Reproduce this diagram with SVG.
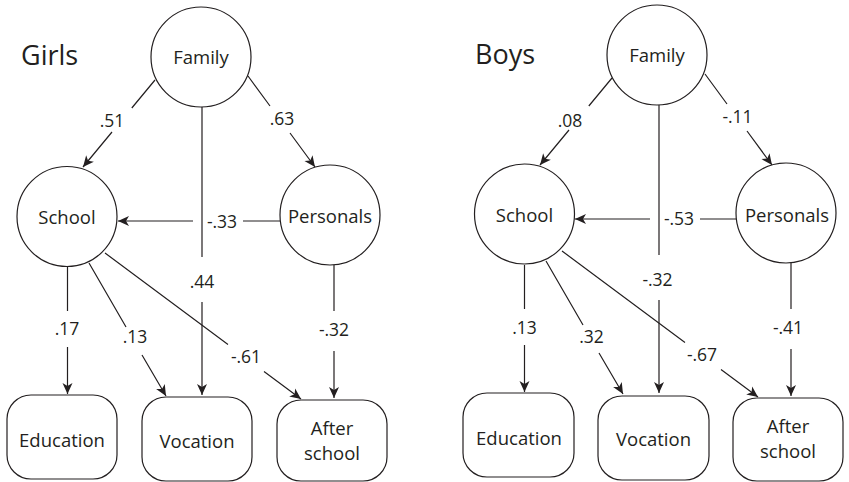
<svg xmlns="http://www.w3.org/2000/svg" width="849" height="482" viewBox="0 0 849 482">
<style>
.ln{fill:none;stroke:#231f20;stroke-width:1.2}
.nd{fill:#fff;stroke:#231f20;stroke-width:1.2}
.tx{font-family:"Open Sans","Liberation Sans",sans-serif;font-size:18.5px;fill:#231f20;text-anchor:middle}
.lb{font-family:"Open Sans","Liberation Sans",sans-serif;font-size:17.5px;fill:#231f20;text-anchor:middle}
.ti{font-family:"Open Sans","Liberation Sans",sans-serif;font-size:27px;fill:#231f20}
</style>
<defs>
<marker id="ah" viewBox="-12 -6 13 12" refX="0" refY="0" markerWidth="13" markerHeight="12" markerUnits="userSpaceOnUse" orient="auto">
<path d="M0,0 L-11,-5 L-8,0 L-11,5 Z" fill="#231f20"/>
</marker>
</defs>

<g id="girls">
<text class="ti" x="21" y="65">Girls</text>
<g id="girls-connectors">
<path class="ln" marker-end="url(#ah)" d="M155,80 L131.8,108 M112,132 L83,167"/>
<text class="lb" x="112" y="127">.51</text>
<path class="ln" marker-end="url(#ah)" d="M248,76 L270,106 M290,133 L315,167"/>
<text class="lb" x="282" y="125">.63</text>
<path class="ln" marker-end="url(#ah)" d="M280,221 L243,221 M193,221 L118,221"/>
<text class="lb" x="222" y="228">-.33</text>
<path class="ln" marker-end="url(#ah)" d="M202,107 L202,257 M202,302 L202,395"/>
<text class="lb" x="202" y="288">.44</text>
<path class="ln" marker-end="url(#ah)" d="M67.5,267 L67.5,311 M67.5,347 L67.5,394"/>
<text class="lb" x="67" y="335">.17</text>
<path class="ln" marker-end="url(#ah)" d="M89,263 L126,327 M142,355 L166,396"/>
<text class="lb" x="135" y="343">.13</text>
<path class="ln" marker-end="url(#ah)" d="M105,253 L228,344.6 M264,371.4 L301,399"/>
<text class="lb" x="246" y="363">-.61</text>
<path class="ln" marker-end="url(#ah)" d="M334,265 L334,311 M334,351 L334,398"/>
<text class="lb" x="334" y="336">-.32</text>
</g>
<g id="girls-family"><circle class="nd" cx="201" cy="57" r="50"/><text class="tx" x="201" y="64">Family</text></g>
<g id="girls-school"><circle class="nd" cx="67" cy="216.5" r="50"/><text class="tx" x="67" y="224">School</text></g>
<g id="girls-personals"><circle class="nd" cx="330" cy="215" r="50"/><text class="tx" x="330" y="222.5">Personals</text></g>
<g id="girls-education"><rect class="nd" x="7" y="395" width="110" height="84" rx="24"/><text class="tx" x="62" y="447">Education</text></g>
<g id="girls-vocation"><rect class="nd" x="142" y="397" width="110" height="84" rx="24"/><text class="tx" x="197" y="448">Vocation</text></g>
<g id="girls-afterschool"><rect class="nd" x="277" y="400" width="110" height="81" rx="24"/><text class="tx" x="332" y="435">After</text><text class="tx" x="332" y="460">school</text></g>
</g>

<g id="boys" transform="translate(457,-2)">
<text class="ti" x="18" y="66">Boys</text>
<g id="boys-connectors">
<path class="ln" marker-end="url(#ah)" d="M155,80 L131.8,108 M112,132 L83,167"/>
<text class="lb" x="113" y="129">.08</text>
<path class="ln" marker-end="url(#ah)" d="M248,76 L270,106 M290,133 L315,167"/>
<text class="lb" x="280.5" y="125">-.11</text>
<path class="ln" marker-end="url(#ah)" d="M280,221 L243,221 M193,221 L118,221"/>
<text class="lb" x="222" y="227">-.53</text>
<path class="ln" marker-end="url(#ah)" d="M202,107 L202,257 M202,302 L202,395"/>
<text class="lb" x="200.5" y="287.5">-.32</text>
<path class="ln" marker-end="url(#ah)" d="M67.5,267 L67.5,311 M67.5,347 L67.5,394"/>
<text class="lb" x="67.5" y="336">.13</text>
<path class="ln" marker-end="url(#ah)" d="M89,263 L126,327 M142,355 L166,396"/>
<text class="lb" x="134.5" y="345">.32</text>
<path class="ln" marker-end="url(#ah)" d="M105,253 L228,344.6 M264,371.4 L301,399"/>
<text class="lb" x="245" y="362.5">-.67</text>
<path class="ln" marker-end="url(#ah)" d="M334,265 L334,311 M334,351 L334,398"/>
<text class="lb" x="331" y="336">-.41</text>
</g>
<g id="boys-family"><circle class="nd" cx="200" cy="57" r="50"/><text class="tx" x="200" y="64">Family</text></g>
<g id="boys-school"><circle class="nd" cx="67.5" cy="216" r="50"/><text class="tx" x="67.5" y="223.5">School</text></g>
<g id="boys-personals"><circle class="nd" cx="329" cy="215" r="50"/><text class="tx" x="330" y="224">Personals</text></g>
<g id="boys-education"><rect class="nd" x="6" y="395" width="111" height="84" rx="24"/><text class="tx" x="62" y="447">Education</text></g>
<g id="boys-vocation"><rect class="nd" x="141" y="398" width="111" height="84" rx="24"/><text class="tx" x="196.5" y="448">Vocation</text></g>
<g id="boys-afterschool"><rect class="nd" x="276" y="400" width="110" height="83" rx="24"/><text class="tx" x="331" y="435">After</text><text class="tx" x="331" y="460">school</text></g>
</g>
</svg>
